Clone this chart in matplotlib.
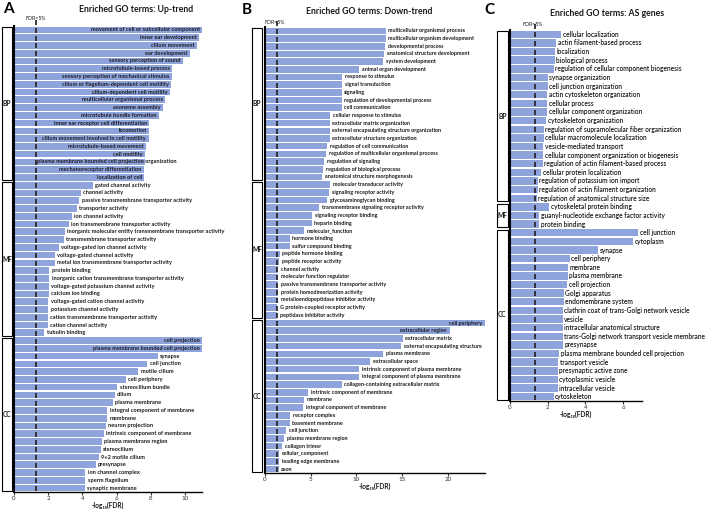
import numpy as np
import matplotlib
matplotlib.use('Agg')
import matplotlib.pyplot as plt
from matplotlib.patches import Rectangle
from matplotlib.transforms import blended_transform_factory

plt.rcParams['font.family'] = ['Lato', 'DejaVu Sans']

FDR_LINE = 1.301

# ---- panel A: up-trend ----
a_bp_terms = ['movement of cell or subcellular component', 'inner ear development', 'cilium movement',
              'ear development', 'sensory perception of sound', 'microtubule-based process',
              'sensory perception of mechanical stimulus', 'cilium or flagellum-dependent cell motility',
              'cilium-dependent cell motility', 'multicellular organismal process', 'axoneme assembly',
              'microtubule bundle formation', 'inner ear receptor cell differentiation', 'locomotion',
              'cilium movement involved in cell motility', 'microtubule-based movement', 'cell motility',
              'plasma membrane bounded cell projection organization', 'mechanoreceptor differentiation',
              'localization of cell']
a_bp_vals = [11.0, 10.84, 10.7, 10.27, 9.88, 9.24, 9.24, 9.2, 9.14, 8.85, 8.71, 8.46, 7.91, 7.91,
             7.87, 7.71, 7.68, 7.64, 7.58, 7.62]
a_mf_terms = ['gated channel activity', 'channel activity', 'passive transmembrane transporter activity',
              'transporter activity', 'ion channel activity', 'ion transmembrane transporter activity',
              'inorganic molecular entity transmembrane transporter activity',
              'transmembrane transporter activity', 'voltage-gated ion channel activity',
              'voltage-gated channel activity', 'metal ion transmembrane transporter activity',
              'protein binding', 'inorganic cation transmembrane transporter activity',
              'voltage-gated potassium channel activity', 'calcium ion binding',
              'voltage-gated cation channel activity', 'potassium channel activity',
              'cation transmembrane transporter activity', 'cation channel activity', 'tubulin binding']
a_mf_vals = [4.61, 3.93, 3.83, 3.67, 3.4, 3.22, 2.99, 2.93, 2.64, 2.4, 2.4, 2.07, 2.07, 2.05, 2.05,
             2.01, 2.01, 1.99, 1.99, 1.78]
a_cc_terms = ['cell projection', 'plasma membrane bounded cell projection', 'synapse', 'cell junction',
              'motile cilium', 'cell periphery', 'stereocilium bundle', 'cilium', 'plasma membrane',
              'integral component of membrane', 'membrane', 'neuron projection',
              'intrinsic component of membrane', 'plasma membrane region', 'stereocilium',
              '9+2 motile cilium', 'presynapse', 'ion channel complex', 'sperm flagellum',
              'synaptic membrane']
a_cc_vals = [11.0, 11.0, 8.4, 7.81, 7.27, 6.56, 6.05, 5.9, 5.78, 5.47, 5.47, 5.39, 5.27, 5.16, 5.08,
             4.96, 4.77, 4.18, 4.18, 4.16]

# ---- panel B: down-trend ----
b_bp_terms = ['multicellular organismal process', 'multicellular organism development',
              'developmental process', 'anatomical structure development', 'system development',
              'animal organ development', 'response to stimulus', 'signal transduction', 'signaling',
              'regulation of developmental process', 'cell communication', 'cellular response to stimulus',
              'extracellular matrix organization', 'external encapsulating structure organization',
              'extracellular structure organization', 'regulation of cell communication',
              'regulation of multicellular organismal process', 'regulation of signaling',
              'regulation of biological process', 'anatomical structure morphogenesis']
b_bp_vals = [13.2, 13.2, 13.14, 13.0, 12.92, 10.33, 8.47, 8.47, 8.39, 8.39, 8.39, 7.15, 7.08, 7.08,
             7.08, 6.79, 6.68, 6.5, 6.35, 6.28]
b_mf_terms = ['molecular transducer activity', 'signaling receptor activity', 'glycosaminoglycan binding',
              'transmembrane signaling receptor activity', 'signaling receptor binding', 'heparin binding',
              'molecular_function', 'hormone binding', 'sulfur compound binding', 'peptide hormone binding',
              'peptide receptor activity', 'channel activity', 'molecular function regulator',
              'passive transmembrane transporter activity', 'protein homodimerization activity',
              'metalloendopeptidase inhibitor activity', 'G protein-coupled receptor activity',
              'peptidase inhibitor activity']
b_mf_vals = [7.15, 7.0, 6.79, 5.91, 5.18, 5.11, 4.23, 2.7, 2.7, 1.62, 1.52, 1.45, 1.45, 1.45, 1.45,
             1.42, 1.36, 1.36]
b_cc_terms = ['cell periphery', 'extracellular region', 'extracellular matrix',
              'external encapsulating structure', 'plasma membrane', 'extracellular space',
              'intrinsic component of plasma membrane', 'integral component of plasma membrane',
              'collagen-containing extracellular matrix', 'intrinsic component of membrane', 'membrane',
              'integral component of membrane', 'receptor complex', 'basement membrane', 'cell junction',
              'plasma membrane region', 'collagen trimer', 'cellular_component', 'leading edge membrane',
              'axon']
b_cc_vals = [24.0, 20.2, 15.04, 14.9, 12.92, 11.5, 10.3, 10.3, 8.39, 4.74, 4.23, 4.16, 2.77, 2.7,
             2.34, 2.12, 1.9, 1.55, 1.55, 1.5]

# ---- panel C: AS genes ----
c_bp_terms = ['cellular localization', 'actin filament-based process', 'localization', 'biological process',
              'regulation of cellular component biogenesis', 'synapse organization',
              'cell junction organization', 'actin cytoskeleton organization', 'cellular process',
              'cellular component organization', 'cytoskeleton organization',
              'regulation of supramolecular fiber organization', 'cellular macromolecule localization',
              'vesicle-mediated transport', 'cellular component organization or biogenesis',
              'regulation of actin filament-based process', 'cellular protein localization',
              'regulation of potassium ion import', 'regulation of actin filament organization',
              'regulation of anatomical structure size']
c_bp_vals = [2.72, 2.45, 2.36, 2.36, 2.31, 2.01, 2.01, 1.98, 1.96, 1.96, 1.92, 1.78, 1.78, 1.75, 1.75,
             1.73, 1.66, 1.48, 1.46, 1.41]
c_mf_terms = ['cytoskeletal protein binding', 'guanyl-nucleotide exchange factor activity', 'protein binding']
c_mf_vals = [2.08, 1.55, 1.55]
c_cc_terms = ['cell junction', 'cytoplasm', 'synapse', 'cell periphery', 'membrane', 'plasma membrane',
              'cell projection', 'Golgi apparatus', 'endomembrane system',
              'clathrin coat of trans-Golgi network vesicle', 'vesicle', 'intracellular anatomical structure',
              'trans-Golgi network transport vesicle membrane', 'presynapse',
              'plasma membrane bounded cell projection', 'transport vesicle', 'presynaptic active zone',
              'cytoplasmic vesicle', 'intracellular vesicle', 'cytoskeleton']
c_cc_vals = [6.81, 6.54, 4.66, 3.16, 3.1, 3.05, 3.02, 2.84, 2.84, 2.8, 2.8, 2.8, 2.8, 2.79, 2.61, 2.57,
             2.54, 2.54, 2.54, 2.31]

BAR_COLOR = '#8fa3dc'
TXT = '#1a1a1a'


def draw_panel(fig, rect, groups, xmax, xticks, inside, fs, fw, box_x, title, title_xy, letter,
               letter_xy, fdr_xy):
    ax = fig.add_axes(rect)
    terms, vals, cats, spans = [], [], [], []
    for name, t, v in groups:
        spans.append((name, len(terms), len(terms) + len(t) - 1))
        terms += t
        vals += v
        cats += [name] * len(t)
    y = np.arange(len(terms))
    ax.barh(y, vals, height=0.86, color=BAR_COLOR, edgecolor='none', zorder=2)
    ax.set_ylim(len(terms) - 0.5, -0.5)
    ax.set_xlim(0, xmax)
    ax.set_yticks([])
    ax.set_xticks(xticks)
    ax.tick_params(axis='x', labelsize=4.5, length=2, width=0.8, pad=1.2, colors='#333333')
    for s in ['top', 'right']:
        ax.spines[s].set_visible(False)
    ax.spines['left'].set_linewidth(1.5)
    ax.spines['bottom'].set_linewidth(1.0)
    ax.set_xlabel('-log₁₀(FDR)', fontsize=4.8, labelpad=0.3, color=TXT, fontweight='bold')

    # labels
    renderer = fig.canvas.get_renderer()
    counts = {}
    for i, (t, v, c) in enumerate(zip(terms, vals, cats)):
        k = counts.get(c, 0)
        counts[c] = k + 1
        if k < inside.get(c, 0):
            txt = ax.text(v - xmax * 0.012, i, t, ha='right', va='center', fontsize=fs, color=TXT,
                          fontweight=fw, zorder=4)
            left = ax.transData.inverted().transform(txt.get_window_extent(renderer))[0][0]
            if left < FDR_LINE + xmax * 0.01:
                txt.set_ha('left')
                txt.set_x(FDR_LINE + xmax * 0.005)
        else:
            ax.text(v + xmax * 0.012, i, t, ha='left', va='center', fontsize=fs, color=TXT,
                    fontweight=fw, zorder=4)

    # FDR = 5% line: one dash per bar plus one above
    ydash = np.arange(-1, len(terms))
    ax.plot(np.full(len(ydash), FDR_LINE), ydash, ls='none', marker='|', ms=3.6, mew=1.3,
            color='#2a2a2a', clip_on=False, zorder=3)
    fig.text(fdr_xy[0] / 708, 1 - fdr_xy[1] / 512, 'FDR=5%', fontsize=3.8, ha='center', va='center',
             color=TXT)

    # category brackets
    tr = blended_transform_factory(fig.transFigure, ax.transData)
    for name, i0, i1 in spans:
        r = Rectangle((box_x[0] / 708, i0 - 0.5 + 0.15), (box_x[1] - box_x[0]) / 708, i1 - i0 + 1 - 0.3,
                      transform=tr, facecolor='white', edgecolor='black', lw=0.8, clip_on=False)
        fig.add_artist(r)
        fig.text((box_x[0] + box_x[1]) / 2 / 708, (i0 + i1) / 2, name, transform=tr, ha='center',
                 va='center', fontsize=4.8, fontweight='bold', color=TXT)

    fig.text(title_xy[0] / 708, 1 - title_xy[1] / 512, title, fontsize=6.3, fontweight='bold',
             ha='center', va='center', color=TXT)
    fig.text(letter_xy[0] / 708, 1 - letter_xy[1] / 512, letter, fontsize=11, fontweight='bold',
             ha='center', va='center', color='black')
    return ax


fig = plt.figure(figsize=(7.08, 5.12), dpi=100)

draw_panel(fig, [14 / 708, 20 / 512, 188 / 708, 466 / 512],
           [('BP', a_bp_terms, a_bp_vals), ('MF', a_mf_terms, a_mf_vals), ('CC', a_cc_terms, a_cc_vals)],
           11, [0, 2, 4, 6, 8, 10], {'BP': 20, 'CC': 2}, 4.1, 'bold', (2, 12),
           'Enriched GO terms: Up-trend', (136, 10), 'A', (8, 9), (36, 18))

draw_panel(fig, [265 / 708, 39 / 512, 219.5 / 708, 446 / 512],
           [('BP', b_bp_terms, b_bp_vals), ('MF', b_mf_terms, b_mf_vals), ('CC', b_cc_terms, b_cc_vals)],
           24, [0, 5, 10, 15, 20], {'CC': 2}, 3.9, 'bold', (252, 262),
           'Enriched GO terms: Down-trend', (369, 12), 'B', (247, 10), (275, 22))

draw_panel(fig, [510 / 708, 111 / 512, 132 / 708, 371 / 512],
           [('BP', c_bp_terms, c_bp_vals), ('MF', c_mf_terms, c_mf_vals), ('CC', c_cc_terms, c_cc_vals)],
           7, [0, 2, 4, 6], {}, 4.8, 'semibold', (497, 508),
           'Enriched GO terms: AS genes', (607, 13), 'C', (489, 10), (533, 24))

fig.savefig('out.png', dpi=100)
